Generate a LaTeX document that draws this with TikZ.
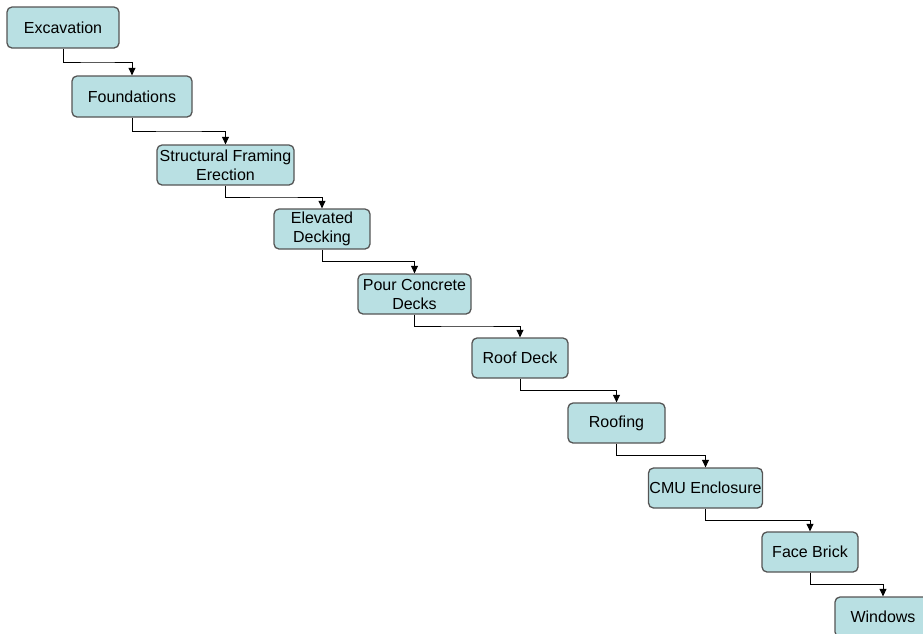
\documentclass[tikz,border=0pt]{standalone}
\usepackage{fontspec}
\setmainfont{Liberation Sans}
\usetikzlibrary{arrows.meta, calc}
\definecolor{taskfill}{RGB}{185,224,227}
\definecolor{taskdraw}{RGB}{85,85,85}
\tikzset{
  >={Triangle[length=7.5pt,width=7pt]},
  % Attivita
  task/.style={draw=taskdraw,fill=taskfill,line width=1.3pt,rounded corners=5pt,
    minimum width=96pt,minimum height=40pt,inner sep=1pt,align=center,
    font=\fontsize{16}{19}\selectfont},
  % Collegamenti
  link/.style={->,black,line width=0.9pt}
}
\begin{document}
\begin{tikzpicture}[x=1pt,y=-1pt]
        \useasboundingbox (0,0) rectangle (923,633);
        % Attivita in sequenza
        \node[task,minimum width=112pt,minimum height=41pt] (exc) at (63,27.5) {Excavation};
        \node[task,minimum width=120pt,minimum height=41pt] (fnd) at (132,96.5) {Foundations};
        \node[task,minimum width=137pt] (sfe) at (225.5,165) {Structural Framing\\Erection};
        \node[task] (edk) at (322,229) {Elevated\\Decking};
        \node[task,minimum width=113pt] (pcd) at (414.5,294) {Pour Concrete\\Decks};
        \node[task] (rdk) at (520,358) {Roof Deck};
        \node[task,minimum width=97pt] (rfg) at (616.5,423) {Roofing};
        \node[task,minimum width=113pt] (cmu) at (705.5,488) {CMU Enclosure};
        \node[task] (fbr) at (810,552) {Face Brick};
        \node[task] (win) at (883,617) {Windows};
        % Collegamenti a gradino
        \foreach \a/\b in {exc/fnd,fnd/sfe,sfe/edk,edk/pcd,pcd/rdk,rdk/rfg,rfg/cmu,cmu/fbr,fbr/win}
          \draw[link] (\a.south) |- ($(\a.south)!0.5!(\b.north)$) -| (\b.north);
      \end{tikzpicture}
\end{document}
